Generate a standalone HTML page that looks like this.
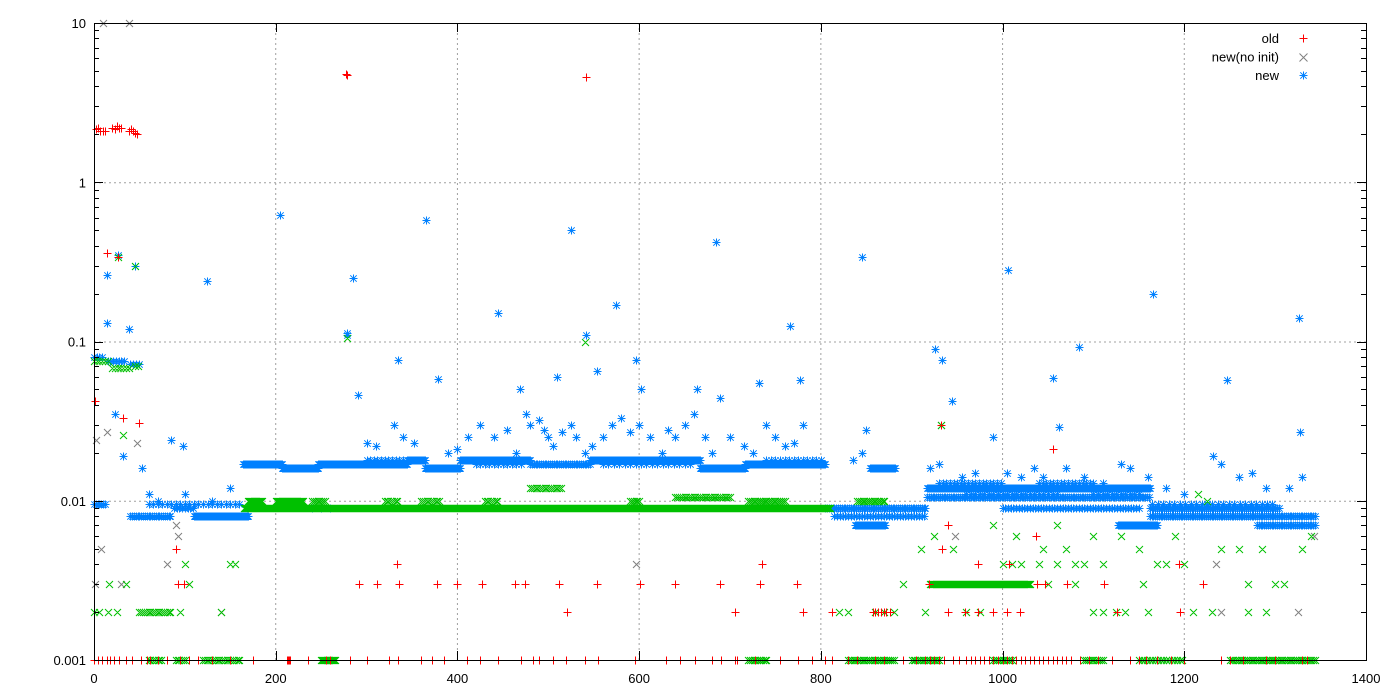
<!DOCTYPE html>
<html><head><meta charset="utf-8"><style>
html,body{margin:0;padding:0;background:#fff}
svg{display:block;font-family:"Liberation Sans",sans-serif}
</style></head><body>
<svg id="chart" width="1400" height="700" xmlns="http://www.w3.org/2000/svg">
<rect x="0" y="0" width="1400" height="700" fill="#fff"/>
<g id="grid"></g>
<g id="marks"></g>
<g id="axes"></g>
<g id="legend"></g>
</svg>
<script>
// ---- axis data ----
const xTicks = [0,200,400,600,800,1000,1200,1400];
const yTicks = [0.001,0.01,0.1,1,10];
const yTickLabels = ["0.001","0.01","0.1","1","10"];

// ---- series "new" (blue stars) ----
const blueRunStart = [0,0,15,40,40,88,110,60,164,207,247,345,364,403,480,546,667,717,777,805,815,838,854,917,917,1000,1127,1162,1162,1280,1280,300,420,560,740,930,960,1040,1100,1165];
const blueRunEnd   = [12,10,35,50,85,110,170,160,207,247,345,364,403,480,546,667,717,800,805,915,915,871,882,1162,1162,1150,1170,1305,1305,1345,1345,345,470,660,800,1000,1060,1100,1150,1300];
const blueRunVal   = [0.0095,0.08,0.075,0.072,0.008,0.009,0.008,0.0095,0.017,0.016,0.017,0.018,0.016,0.018,0.017,0.018,0.016,0.017,0.017,0.009,0.008,0.007,0.016,0.012,0.0105,0.009,0.007,0.009,0.008,0.008,0.007,0.018,0.017,0.017,0.018,0.013,0.011,0.013,0.011,0.0095];
const blueRunStep  = [2,3,3,3,2,3,1,5,1,1,1,1,1,1,2,1,1,1,1,2,3,1,1,1,2,3,1,2,2,2,2,4,5,6,5,4,5,4,5,6];
const blueOutIdx = [205,278,279,285,365,525,541,575,685,845,1006,1166,1326,124,445,14,14,26,45,39,1084,926,933,597,335,379,291,1056,1247,766,469,510,554,602,664,732,777,689,944,85,98,23,32,53,990,1062,1232,1327,
 300,310,330,340,352,390,400,412,425,440,455,465,475,480,490,495,500,505,515,525,530,540,548,560,570,580,590,600,612,625,632,640,650,660,672,680,700,715,725,740,750,760,770,780,835,850,845,920,930,955,970,1005,1020,1035,1045,1070,1090,1110,1130,1140,1160,1180,1200,1240,1260,1275,1290,1315,1330,60,70,100,130,150,240,250,260];
const blueOutVal = [0.62,0.113,0.11,0.25,0.58,0.5,0.11,0.17,0.42,0.34,0.28,0.2,0.14,0.24,0.15,0.13,0.26,0.35,0.3,0.12,0.093,0.09,0.077,0.076,0.077,0.058,0.046,0.059,0.057,0.125,0.05,0.06,0.065,0.05,0.05,0.055,0.057,0.044,0.042,0.024,0.022,0.035,0.019,0.016,0.025,0.029,0.019,0.027,
 0.023,0.022,0.03,0.025,0.023,0.02,0.021,0.025,0.03,0.025,0.028,0.02,0.035,0.03,0.032,0.028,0.025,0.022,0.027,0.03,0.025,0.02,0.022,0.025,0.03,0.033,0.027,0.03,0.025,0.02,0.028,0.025,0.03,0.035,0.025,0.02,0.025,0.022,0.02,0.03,0.025,0.022,0.023,0.03,0.018,0.028,0.02,0.016,0.017,0.014,0.015,0.015,0.014,0.016,0.014,0.016,0.014,0.013,0.017,0.016,0.014,0.012,0.011,0.017,0.014,0.015,0.012,0.012,0.014,0.011,0.01,0.011,0.01,0.012,0.009,0.009,0.009];

// ---- unlabeled green series (x) ----
const greenRunStart = [0,20,45,50,165,170,200,240,320,360,430,480,590,640,720,800,840,920,60,90,120,250,720,830,900,990,1090,1150,1250];
const greenRunEnd   = [15,40,50,85,800,185,230,255,335,380,445,515,600,700,760,810,870,1030,75,100,160,265,740,880,930,1010,1110,1200,1345];
const greenRunVal   = [0.075,0.068,0.07,0.002,0.009,0.01,0.01,0.01,0.01,0.01,0.01,0.012,0.01,0.0105,0.01,0.009,0.01,0.003,0.001,0.001,0.001,0.001,0.001,0.001,0.001,0.001,0.001,0.001,0.001];
const greenRunStep  = [3,3,3,2,1,1,1,2,2,2,2,2,2,2,2,1,2,1,2,2,2,1,2,2,2,2,2,3,2];
const greenOutIdx = [26,45,278,540,32,932,910,925,945,990,1015,1045,1060,1070,1100,1130,1150,1190,1240,1260,1285,1330,1340,150,155,100,1000,1010,1020,1040,1060,1080,1090,1110,1170,1180,1200,890,940,1050,1080,1155,1270,1300,1310,820,830,860,870,880,915,960,975,1100,1110,1125,1135,1160,1210,1230,1270,1290,17,35,105,0,5,15,25,95,140,1215,1225];
const greenOutVal = [0.34,0.3,0.105,0.1,0.026,0.03,0.005,0.006,0.005,0.007,0.006,0.005,0.007,0.005,0.006,0.006,0.005,0.006,0.005,0.005,0.005,0.005,0.006,0.004,0.004,0.004,0.004,0.004,0.004,0.004,0.004,0.004,0.004,0.004,0.004,0.004,0.004,0.003,0.003,0.003,0.003,0.003,0.003,0.003,0.003,0.002,0.002,0.002,0.002,0.002,0.002,0.002,0.002,0.002,0.002,0.002,0.002,0.002,0.002,0.002,0.002,0.002,0.003,0.003,0.003,0.002,0.002,0.002,0.002,0.002,0.002,0.011,0.01];

// ---- series "new(no init)" (gray x) ----
const grayIdx = [10,38,14,2,8,1,30,47,90,92,80,140,596,932,948,1343,1235,1240,1325];
const grayVal = [10,10,0.027,0.024,0.005,0.003,0.003,0.023,0.007,0.006,0.004,0.002,0.004,0.03,0.006,0.006,0.004,0.002,0.002];

// ---- series "old" (red +) ----
const redIdx = [2,4,7,10,12,20,23,25,27,30,39,41,43,45,47,277,278,541,14,26,1,32,50,1055,932,90,92,99,292,312,336,377,400,427,463,474,512,554,601,640,689,733,774,919,1038,1047,1071,1112,1221,521,705,780,812,857,860,863,866,869,872,876,940,959,973,990,1005,1019,1126,1195,933,940,973,1194,1037,333,735,1007];
const redVal = [2.15,2.2,2.1,2.1,2.1,2.2,2.15,2.25,2.2,2.2,2.1,2.15,2.1,2.05,2.0,4.8,4.7,4.6,0.36,0.34,0.042,0.033,0.031,0.021,0.03,0.005,0.003,0.003,0.003,0.003,0.003,0.003,0.003,0.003,0.003,0.003,0.003,0.003,0.003,0.003,0.003,0.003,0.003,0.003,0.003,0.003,0.003,0.003,0.003,0.002,0.002,0.002,0.002,0.002,0.002,0.002,0.002,0.002,0.002,0.002,0.002,0.002,0.002,0.002,0.002,0.002,0.002,0.002,0.005,0.007,0.004,0.004,0.006,0.004,0.004,0.004];
const redZeroIdx = [0,4,9,14,18,22,27,35,42,52,58,62,70,80,95,105,115,130,150,175,212,213,214,215,216,235,255,260,282,300,325,335,360,372,385,410,425,445,470,483,490,505,520,540,555,595,630,645,662,680,690,705,708,728,755,775,790,805,812,830,840,860,870,890,905,915,920,925,930,935,945,952,960,965,970,975,980,985,990,995,1000,1005,1010,1015,1020,1025,1030,1035,1040,1045,1050,1055,1060,1065,1070,1075,1085,1095,1105,1120,1140,1150,1158,1170,1185,1200,1240,1250,1265,1290,1300,1330,1335];

// ---- scales ----
const X0=94, X1=1366, Y0=660, Y1=23;
function X(v){ return X0 + v*(X1-X0)/1400; }
function Y(v){ return Y0 - (Math.log10(v)+3)*(Y0-Y1)/4; }

const NS="http://www.w3.org/2000/svg";
function mk(tag, attrs, parent){
  const e=document.createElementNS(NS,tag);
  for(const k in attrs) e.setAttribute(k,attrs[k]);
  parent.appendChild(e); return e;
}
const grid=document.getElementById('grid');
const marks=document.getElementById('marks');
const axes=document.getElementById('axes');
const legend=document.getElementById('legend');

xTicks.forEach(t=>{
  if(t===0||t===1400) return;
  const l=mk('line',{x1:X(t),x2:X(t),y1:Y0,y2:Y1,stroke:'#a0a0a0','stroke-dasharray':'2,3','stroke-width':1},grid);
  
  
});
yTicks.forEach(t=>{
  if(t===0.001||t===10) return;
  const l=mk('line',{x1:X0,x2:X1,y1:Y(t)+0.5,y2:Y(t)+0.5,stroke:'#a0a0a0','stroke-dasharray':'2,3','stroke-width':1},grid);
  
  
});

function pathPlus(x,y,s){ return `M${x-s},${y}H${x+s}M${x},${y-s}V${y+s}`; }
function pathCross(x,y,s){ return `M${x-s},${y-s}L${x+s},${y+s}M${x-s},${y+s}L${x+s},${y-s}`; }
function pathStar(x,y,s){ return pathPlus(x,y,s)+pathCross(x,y,s*0.8); }

function drawSeries(name,color,pts,fn,s){
  let d='';
  pts.forEach(p=>{ d+=fn(Math.round(X(p[0]))+0.5,Math.round(Y(p[1]))+0.5,s); });
  const el=mk('path',{d:d,stroke:color,'stroke-width':1,fill:'none'},marks);
  
  
}
function runsToPts(st,en,val,step){
  const pts=[];
  for(let r=0;r<st.length;r++){
    for(let i=st[r];i<=en[r];i+=step[r]) pts.push([i,val[r]]);
  }
  return pts;
}
const bluePts=runsToPts(blueRunStart,blueRunEnd,blueRunVal,blueRunStep);
blueOutIdx.forEach((v,i)=>bluePts.push([v,blueOutVal[i]]));
const greenPts=runsToPts(greenRunStart,greenRunEnd,greenRunVal,greenRunStep);
greenOutIdx.forEach((v,i)=>greenPts.push([v,greenOutVal[i]]));
const grayPts=grayIdx.map((v,i)=>[v,grayVal[i]]);
const redPts=redIdx.map((v,i)=>[v,redVal[i]]);
redZeroIdx.forEach(v=>redPts.push([v,0.001]));

drawSeries('series-new','#0080ff',bluePts,pathStar,4);
drawSeries('series-new-no-init','#808080',grayPts,pathCross,3.5);
drawSeries('series-green','#00c000',greenPts,pathCross,3.5);
drawSeries('series-old','#ff0000',redPts,pathPlus,4);

const fr=mk('rect',{x:X0+0.5,y:Y1+0.5,width:X1-X0,height:Y0-Y1,fill:'none',stroke:'#000','stroke-width':1},axes);



xTicks.forEach(t=>{
  const x=Math.round(X(t))+0.5;
  const tk=mk('path',{d:`M${x},${Y0}v-9M${x},${Y1}v9`,stroke:'#000','stroke-width':1},axes);
  
  
  const tx=mk('text',{x:X(t),y:683,'font-size':13,'text-anchor':'middle',fill:'#000'},axes);
  tx.textContent=String(t);
  
  
});
yTicks.forEach((t,i)=>{
  const y=Math.round(Y(t))+0.5;
  const tk=mk('path',{d:`M${X0},${y}h9M${X1},${y}h-9`,stroke:'#000','stroke-width':1},axes);
  
  
  const tx=mk('text',{x:86,y:Y(t)+5,'font-size':13,'text-anchor':'end',fill:'#000'},axes);
  tx.textContent=yTickLabels[i];
  
  
  if(t<10){
    let d='';
    for(let m=2;m<=9;m++){ const yy=Math.round(Y(t*m))+0.5; d+=`M${X0},${yy}h5M${X1},${yy}h-5`; }
    const mt=mk('path',{d:d,stroke:'#000','stroke-width':1},axes);
    
    
  }
});

const legNames=['old','new(no init)','new'];
const legColors=['#ff0000','#808080','#0080ff'];
const legFns=[pathPlus,pathCross,pathStar];
legNames.forEach((n,i)=>{
  const y=38+i*18.5;
  const g=mk('g',{},legend);
  
  
  const t=mk('text',{x:1279,y:y+5,'font-size':13,'text-anchor':'end',fill:'#000'},g);
  t.textContent=n;
  
  
  const m=mk('path',{d:legFns[i](1303.5,Math.round(y)+0.5,4),stroke:legColors[i],'stroke-width':1,fill:'none'},g);
  
  
});
</script>
</body></html>
